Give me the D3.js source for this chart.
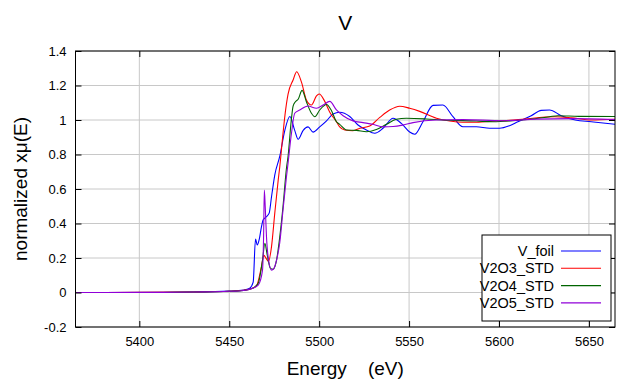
<!DOCTYPE html>
<html><head><meta charset="utf-8">
<script src="https://cdn.jsdelivr.net/npm/d3@7"></script>
<style>body{margin:0;background:#fff}svg{display:block}text{font-family:"Liberation Sans",Arial,sans-serif}</style>
</head><body>
<svg id="c" width="640" height="384"></svg>
<script>
const seriesNames = ["V_foil", "V2O3_STD", "V2O4_STD", "V2O5_STD"];
const seriesColors = ["#0000ff", "#ff0000", "#006400", "#9000d8"];
const xTicks = [5400, 5450, 5500, 5550, 5600, 5650];
const yTicks = [-0.2, 0, 0.2, 0.4, 0.6, 0.8, 1, 1.2, 1.4];

const vFoil = [[5365,0],[5400,0.001],[5430,0.003],[5450,0.008],[5458,0.014],[5461.4,0.025],[5463.3,0.06],[5464.6,0.31],[5465.6,0.275],[5466.6,0.305],[5467.9,0.38],[5468.8,0.42],[5470.7,0.44],[5472.2,0.46],[5473.5,0.555],[5474.4,0.62],[5475.3,0.68],[5478.1,0.79],[5480.9,0.94],[5483.7,1.02],[5486.4,0.94],[5488.3,0.888],[5491.1,0.94],[5493.8,0.96],[5496.6,0.93],[5500.3,0.96],[5504.1,0.995],[5507.7,1.035],[5511.4,1.045],[5517,1.02],[5521.6,0.971],[5526.3,0.942],[5530.9,0.923],[5535.5,0.952],[5541.1,1.01],[5545.7,0.98],[5550.3,0.93],[5553.1,0.917],[5557.7,0.99],[5563.3,1.085],[5568.8,1.087],[5574.4,1.019],[5579.9,0.961],[5587.4,0.961],[5594.8,0.952],[5600.3,0.952],[5605.9,0.967],[5610.5,0.99],[5617.9,1.025],[5623.5,1.056],[5628.1,1.058],[5634.6,1.025],[5642.4,1.0],[5651.3,0.99],[5664.5,0.975]];
const v2o3 = [[5365,0],[5400,0.001],[5430,0.003],[5450,0.007],[5458,0.013],[5463,0.025],[5465.2,0.04],[5467.9,0.15],[5469.2,0.215],[5470.7,0.195],[5471.8,0.18],[5473.5,0.266],[5475.3,0.459],[5477.2,0.65],[5478.1,0.73],[5479.9,0.923],[5481,1.03],[5482.7,1.15],[5485.5,1.232],[5487.5,1.28],[5490.2,1.218],[5492.9,1.116],[5495.7,1.087],[5498.5,1.14],[5500,1.151],[5503.1,1.108],[5505.9,1.045],[5509.6,0.99],[5511.4,0.96],[5514.2,0.942],[5518.8,0.938],[5522.6,0.952],[5528.1,0.965],[5533.7,1.015],[5539.2,1.058],[5544.8,1.08],[5550.3,1.068],[5555.9,1.05],[5565.2,1.01],[5572.6,0.994],[5579.9,0.987],[5587.4,0.987],[5598.5,0.994],[5605.9,0.998],[5614.2,1.006],[5630.9,1.019],[5640.1,1.013],[5651.3,1.0],[5664.5,1.004]];
const v2o4 = [[5365,0],[5400,0],[5430,0.003],[5450,0.007],[5458,0.012],[5463,0.025],[5466.1,0.053],[5468.5,0.188],[5469.8,0.285],[5471.1,0.218],[5472.9,0.14],[5474.4,0.135],[5476.3,0.188],[5478.1,0.324],[5479.9,0.5],[5481.8,0.72],[5482.7,0.79],[5484.6,1.01],[5485.5,1.08],[5486.8,1.106],[5488.3,1.12],[5490.5,1.172],[5492.9,1.106],[5495.7,1.039],[5497.6,1.019],[5500.3,1.058],[5504.1,1.09],[5506.8,1.055],[5509.6,0.99],[5511.4,0.975],[5515.2,0.942],[5520.7,0.94],[5526.3,0.932],[5531.8,0.945],[5537.4,0.975],[5542.9,1.004],[5548.5,1.01],[5559.6,1.006],[5568.8,1.0],[5587.4,0.994],[5596.6,0.99],[5605.9,0.994],[5617,1.004],[5628.1,1.019],[5632.7,1.025],[5644.3,1.021],[5664.5,1.02]];
const v2o5 = [[5365,0],[5400,0],[5430,0.003],[5450,0.007],[5458,0.012],[5463,0.025],[5466.1,0.043],[5468.5,0.13],[5469.1,0.33],[5469.5,0.594],[5470,0.5],[5470.7,0.324],[5471.6,0.208],[5473.5,0.13],[5474.8,0.14],[5476.3,0.188],[5478.1,0.29],[5479.9,0.478],[5481.8,0.67],[5482.7,0.75],[5484.6,0.923],[5486.4,1.039],[5489.2,1.058],[5493.8,1.081],[5498.5,1.068],[5502.2,1.087],[5505.9,1.108],[5509.6,1.058],[5513.3,1.025],[5518.8,0.995],[5524.4,0.985],[5529.9,0.975],[5535.5,0.96],[5541.1,0.962],[5546.6,0.971],[5552.2,0.985],[5565.2,1.0],[5579.9,1.002],[5602.2,0.996],[5620.7,1.005],[5640.1,1.008],[5664.5,1.003]];
const seriesData = [vFoil, v2o3, v2o4, v2o5];

const svg = d3.select("#c");
const L = 75.5, R = 615, T = 51, B = 327;
const x = d3.scaleLinear().domain([5364.5, 5664.5]).range([L, R]);
const y = d3.scaleLinear().domain([-0.2, 1.4]).range([B, T]);

// grid
svg.append("g").selectAll("line").data(xTicks).join("line")
  .attr("x1", d => x(d)).attr("x2", d => x(d)).attr("y1", T).attr("y2", B)
  .attr("stroke", "#c8c8c8").attr("stroke-width", 1);
svg.append("g").selectAll("line").data(yTicks).join("line")
  .attr("x1", L).attr("x2", R).attr("y1", d => y(d)).attr("y2", d => y(d))
  .attr("stroke", "#c8c8c8").attr("stroke-width", 1);

// curves
svg.append("clipPath").attr("id", "pc").append("rect")
  .attr("x", L).attr("y", T).attr("width", R - L).attr("height", B - T);
const line = d3.line().x(d => x(d[0])).y(d => y(d[1])).curve(d3.curveMonotoneX);
svg.append("g").attr("clip-path", "url(#pc)").selectAll("path").data(seriesData).join("path")
  .attr("d", line).attr("fill", "none")
  .attr("stroke", (d, i) => seriesColors[i]).attr("stroke-width", 1.1);

// axes with inward ticks on all sides
const fmt = d => String(+d.toFixed(1));
const gx = svg.append("g").attr("transform", `translate(0,${B})`)
  .call(d3.axisBottom(x).tickValues(xTicks).tickFormat(d => String(d)).tickSizeInner(-6).tickSizeOuter(0).tickPadding(10));
const gxt = svg.append("g").attr("transform", `translate(0,${T})`)
  .call(d3.axisTop(x).tickValues(xTicks).tickSizeInner(-6).tickSizeOuter(0).tickFormat(""));
const gy = svg.append("g").attr("transform", `translate(${L},0)`)
  .call(d3.axisLeft(y).tickValues(yTicks).tickFormat(fmt).tickSizeInner(-6).tickSizeOuter(0).tickPadding(9));
const gyr = svg.append("g").attr("transform", `translate(${R},0)`)
  .call(d3.axisRight(y).tickValues(yTicks).tickSizeInner(-6).tickSizeOuter(0).tickFormat(""));
[gx, gxt, gy, gyr].forEach(g => {
  g.select(".domain").remove();
  g.selectAll("line").attr("stroke", "#000");
  g.selectAll("text").attr("font-size", 13).attr("fill", "#000")
    .attr("font-family", '"Liberation Sans", Arial, sans-serif');
});
svg.append("rect").attr("x", L).attr("y", T).attr("width", R - L).attr("height", B - T)
  .attr("fill", "none").attr("stroke", "#000").attr("stroke-width", 1);

// titles
svg.append("text").attr("x", (L + R) / 2).attr("y", 30).attr("text-anchor", "middle")
  .attr("font-size", 21).text("V");
svg.append("text").attr("x", (L + R) / 2).attr("y", 375).attr("text-anchor", "middle")
  .attr("font-size", 19).style("white-space", "pre").text("Energy    (eV)");
svg.append("text").attr("transform", `translate(27,${(T + B) / 2}) rotate(-90)`)
  .attr("text-anchor", "middle").attr("font-size", 19).text("normalized xμ(E)");

// legend
const lg = svg.append("g");
lg.append("rect").attr("x", 482).attr("y", 235).attr("width", 129).attr("height", 86)
  .attr("fill", "#fff").attr("stroke", "#000").attr("stroke-width", 1);
seriesNames.forEach((n, i) => {
  const cy = 251 + i * 17.3;
  lg.append("text").attr("x", 554).attr("y", cy + 5).attr("text-anchor", "end")
    .attr("font-size", 14.5).text(n);
  lg.append("line").attr("x1", 561).attr("x2", 601).attr("y1", cy).attr("y2", cy)
    .attr("stroke", seriesColors[i]).attr("stroke-width", 1.1);
});
</script>
</body></html>
